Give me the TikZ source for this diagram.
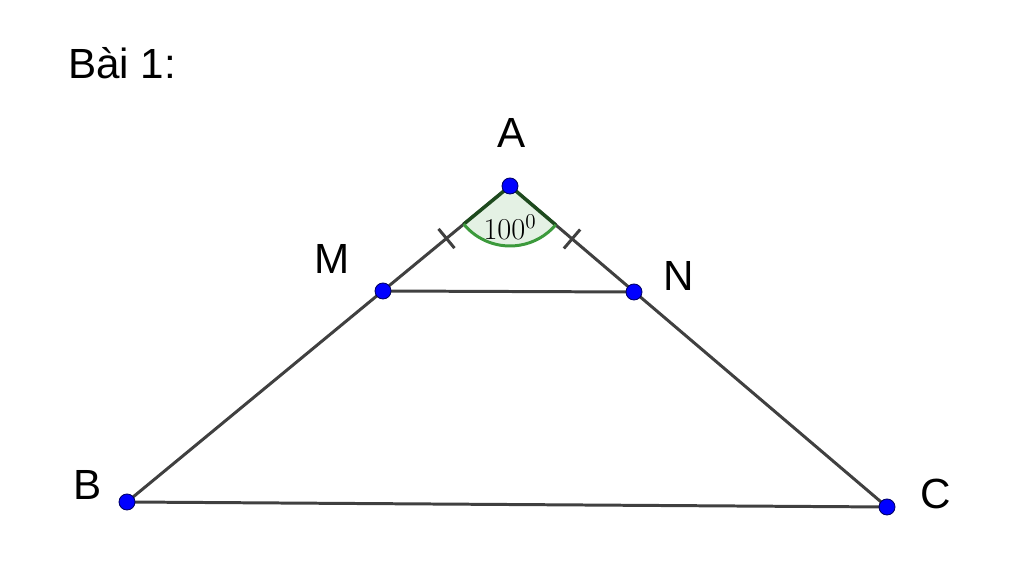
\documentclass[tikz,border=0pt]{standalone}
\usepackage{fontspec}
\setmainfont{Liberation Sans}
\usetikzlibrary{calc}
\definecolor{segcol}{HTML}{404040}
\definecolor{ptcol}{HTML}{0000FF}
\definecolor{angfill}{HTML}{E4F1E4}
\definecolor{angedge}{HTML}{1E4A1E}
\definecolor{angarc}{HTML}{3C9A3C}
\tikzset{
  seg/.style={segcol, line width=1.7pt},
  pt/.style={circle, fill=ptcol, draw=ptcol!40!black, line width=0.5pt, inner sep=0pt, minimum size=0.32cm},
  lbl/.style={font=\fontsize{24}{28}\selectfont},
  tick/.style={segcol, line width=1.7pt}
}
\begin{document}
\begin{tikzpicture}
    \useasboundingbox (0,0) rectangle (20.48,11.72);

    \coordinate (A) at (10.2,8.0);
    \coordinate (M) at (7.66,5.9);
    \coordinate (N) at (12.68,5.88);
    \coordinate (B) at (2.54,1.68);
    \coordinate (C) at (17.74,1.58);

    % sides
    \draw[seg] (A) -- (B) -- (C) -- cycle;
    \draw[seg] (M) -- (N);

    % angle at A
    \fill[angfill] (A) -- ++(219.5:1.2) arc (219.5:319.6:1.2) -- cycle;
    \draw[angedge, line width=2pt] ($(A)+(219.5:1.2)$) -- (A) -- ++(319.6:1.2);
    \draw[angarc, line width=1.7pt] ($(A)+(219.5:1.2)$) arc (219.5:319.6:1.2);
    \node[font=\fontspec{Latin Modern Roman}\fontsize{17}{19}\selectfont] (ang) at (10.2,7.17) {$100^0$};

    % equal marks
    \coordinate (t1) at ($(A)!0.5!(M)$);
    \coordinate (t2) at ($(A)!0.5!(N)$);
    \draw[tick] ($(t1)!0.25cm!90:(A)$) -- ($(t1)!0.25cm!-90:(A)$);
    \draw[tick] ($(t2)!0.25cm!90:(A)$) -- ($(t2)!0.25cm!-90:(A)$);

    % points
    \foreach \p in {A,M,N,B,C}
        \node[pt] (p\p) at (\p) {};

    \node[lbl] (lA) at (10.24,9.05) {A};
    \node[lbl] (lM) at (6.64,6.55) {M};
    \node[lbl] (lN) at (13.58,6.2) {N};
    \node[lbl] (lB) at (1.76,2.02) {B};
    \node[lbl] (lC) at (18.72,1.84) {C};
    \node[lbl, anchor=west] (title) at (1.24,10.46) {Bài 1:};
\end{tikzpicture}
\end{document}
